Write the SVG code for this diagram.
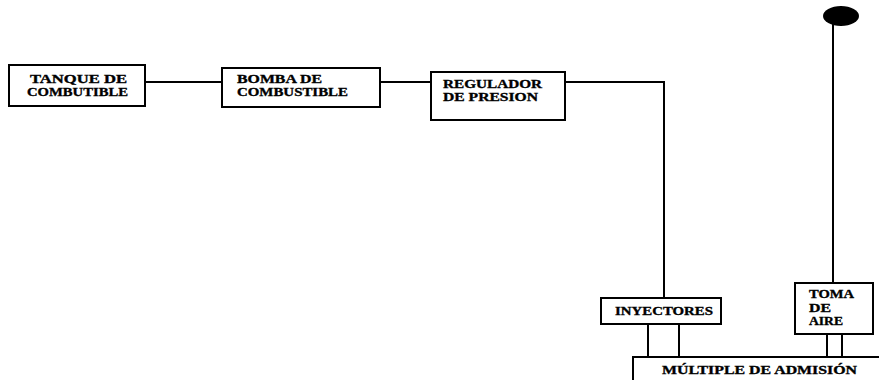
<svg xmlns="http://www.w3.org/2000/svg" width="879" height="380" viewBox="0 0 879 380">
<style>
.box{fill:#fff;stroke:#000;stroke-width:2}
.ln{fill:none;stroke:#000;stroke-width:2}
text{font-family:"Liberation Serif","Times New Roman",serif;font-weight:bold;font-size:12.5px;fill:#000;stroke:#000;stroke-width:0.35}
</style>
<rect width="879" height="380" fill="#fff"/>
<g id="connectors">
<line class="ln" x1="145" y1="82" x2="222" y2="82"/>
<line class="ln" x1="380" y1="82" x2="431" y2="82"/>
<polyline class="ln" points="565,82 664,82 664,298"/>
<line class="ln" x1="648" y1="324" x2="648" y2="357"/>
<line class="ln" x1="679" y1="324" x2="679" y2="357"/>
<line class="ln" x1="833" y1="22" x2="833" y2="283"/>
<line class="ln" x1="827" y1="334" x2="827" y2="357"/>
<line class="ln" x1="842" y1="334" x2="842" y2="357"/>
</g>
<g id="tanque">
<rect class="box" x="9" y="65" width="136" height="41"/>
<text x="30" y="83" textLength="97" lengthAdjust="spacingAndGlyphs">TANQUE DE</text>
<text x="27" y="96" textLength="101" lengthAdjust="spacingAndGlyphs">COMBUTIBLE</text>
</g>
<g id="bomba">
<rect class="box" x="222" y="68" width="158" height="39"/>
<text x="237" y="83" textLength="85" lengthAdjust="spacingAndGlyphs">BOMBA DE</text>
<text x="237" y="96" textLength="111" lengthAdjust="spacingAndGlyphs">COMBUSTIBLE</text>
</g>
<g id="regulador">
<rect class="box" x="431" y="72" width="134" height="48"/>
<text x="443" y="88" textLength="99" lengthAdjust="spacingAndGlyphs">REGULADOR</text>
<text x="443" y="101" textLength="95" lengthAdjust="spacingAndGlyphs">DE PRESION</text>
</g>
<g id="inyectores">
<rect class="box" x="601" y="298" width="120" height="26"/>
<text x="615" y="315" textLength="98" lengthAdjust="spacingAndGlyphs">INYECTORES</text>
</g>
<g id="toma">
<ellipse cx="841" cy="16" rx="18" ry="10" fill="#000"/>
<rect class="box" x="795" y="283" width="78" height="51"/>
<text x="809" y="298" textLength="45" lengthAdjust="spacingAndGlyphs">TOMA</text>
<text x="809" y="312" textLength="22" lengthAdjust="spacingAndGlyphs">DE</text>
<text x="809" y="325" textLength="34" lengthAdjust="spacingAndGlyphs">AIRE</text>
</g>
<g id="multiple">
<rect class="box" x="633" y="357" width="260" height="40"/>
<text x="662" y="374" textLength="195" lengthAdjust="spacingAndGlyphs">MÚLTIPLE DE ADMISIÓN</text>
</g>
</svg>
